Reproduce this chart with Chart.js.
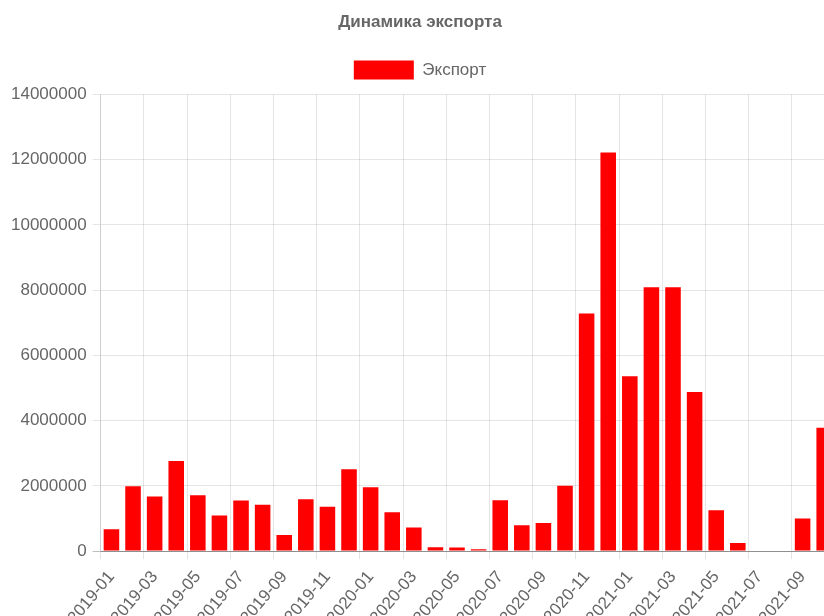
<!DOCTYPE html>
<html>
<head>
<meta charset="utf-8">
<script src="https://cdn.jsdelivr.net/npm/chart.js@4/dist/chart.umd.min.js"></script>
<style>
  body { margin: 0; overflow: hidden; background: #fff; }
  #wrap { width: 835px; height: 636px; }
</style>
</head>
<body>
<div id="wrap"><canvas id="myChart" width="835" height="636"></canvas></div>
<script>
var months = ['2019-01','2019-02','2019-03','2019-04','2019-05','2019-06','2019-07','2019-08','2019-09','2019-10','2019-11','2019-12',
              '2020-01','2020-02','2020-03','2020-04','2020-05','2020-06','2020-07','2020-08','2020-09','2020-10','2020-11','2020-12',
              '2021-01','2021-02','2021-03','2021-04','2021-05','2021-06','2021-07','2021-08','2021-09','2021-10']
var exportValues = [670000, 1990000, 1670000, 2760000, 1710000, 1090000, 1550000, 1420000, 490000, 1590000, 1360000, 2510000,
                    1960000, 1190000, 720000, 115000, 110000, 60000, 1560000, 790000, 860000, 2000000, 7280000, 12220000,
                    5360000, 8090000, 8090000, 4880000, 1250000, 250000, 0, 0, 1000000, 3780000]
var yTicks = [0, 2000000, 4000000, 6000000, 8000000, 10000000, 12000000, 14000000]

const fontFam = 'Arial, "Liberation Sans", Helvetica, sans-serif';
const gray = '#666';
const gridCol = 'rgba(0,0,0,0.1)';
const zeroCol = 'rgba(0,0,0,0.25)';

// a bit more room under the legend
const legendGap = {
    id: 'legendGap',
    beforeInit(chart) {
        const fit = chart.legend.fit;
        chart.legend.fit = function() {
            fit.bind(chart.legend)();
            this.height += 5;
        };
    }
};

const config = {
    type: 'bar',
    data: {
        labels: months,
        datasets: [{
            label: 'Экспорт',
            backgroundColor: '#ff0000',
            borderColor: '#ff0000',
            data: exportValues,
        }]
    },
    options: {
        responsive: false,
        animation: false,
        layout: { padding: { left: 5, right: 0, top: 4 } },
        plugins: {
            title: {
                display: true,
                text: 'Динамика экспорта',
                color: gray,
                font: { family: fontFam, size: 17, weight: 'bold' },
                padding: { top: 8, bottom: 18 }
            },
            legend: {
                labels: {
                    color: gray,
                    boxWidth: 60,
                    boxHeight: 19,
                    font: { family: fontFam, size: 17 }
                }
            },
            tooltip: { enabled: false }
        },
        scales: {
            x: {
                grid: {
                    color: (ctx) => ctx.index % 2 === 0 ? gridCol : 'rgba(0,0,0,0)'
                },
                border: { color: zeroCol },
                ticks: {
                    autoSkip: false,
                    padding: 8,
                    color: gray,
                    font: { family: fontFam, size: 17 },
                    minRotation: 50,
                    maxRotation: 50,
                    // label every other month
                    callback: function(val, i) { return i % 2 === 0 ? months[i] : []; }
                }
            },
            y: {
                min: yTicks[0],
                max: yTicks[yTicks.length - 1],
                grid: { color: (ctx) => ctx.tick && ctx.tick.value === 0 ? zeroCol : gridCol },
                border: { color: gridCol },
                ticks: {
                    stepSize: yTicks[1] - yTicks[0],
                    padding: 6,
                    color: gray,
                    font: { family: fontFam, size: 17 },
                    callback: (v) => v
                }
            }
        }
    },
    plugins: [legendGap]
};
const myChart = new Chart(document.getElementById('myChart'), config);
</script>
</body>
</html>
